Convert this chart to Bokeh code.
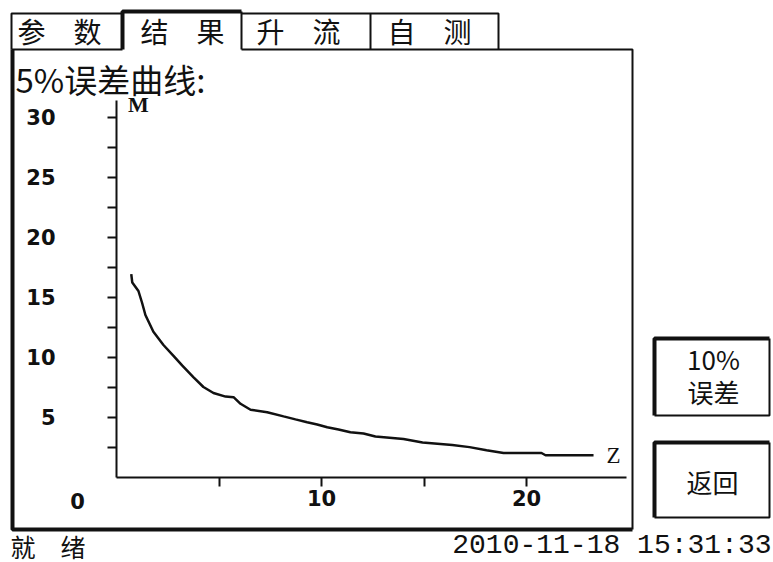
from bokeh.plotting import figure
from bokeh.models import Range1d, LinearAxis, FixedTicker
from bokeh.embed import file_html
from bokeh.resources import INLINE
from bokeh.core.properties import value

# ---------------- data ----------------
z_vals = [0.72, 0.77, 1.07, 1.25, 1.41, 1.80, 2.29, 2.78, 3.20, 3.76, 4.24, 4.73,
          5.32, 5.71, 6.05, 6.54, 7.35, 8.15, 8.73, 9.30, 9.79, 10.28, 10.83, 11.41,
          12.05, 12.63, 14.00, 14.93, 16.38, 17.22, 18.05, 18.88, 20.73, 20.93, 23.27]
m_vals = [16.9, 16.2, 15.5, 14.5, 13.5, 12.1, 11.0, 10.1, 9.3, 8.3, 7.5, 7.0,
          6.7, 6.65, 6.1, 5.6, 5.4, 5.05, 4.8, 4.57, 4.38, 4.15, 3.96, 3.73,
          3.63, 3.38, 3.16, 2.88, 2.67, 2.49, 2.23, 2.0, 2.0, 1.81, 1.81]
y_major = [5, 10, 15, 20, 25, 30]
y_minor = [2.5, 7.5, 12.5, 17.5, 22.5, 27.5]
x_major = [10, 20]
x_minor = [5, 15]
tab_labels = ["参　数", "结　果", "升　流", "自　测"]
title_text = "5%误差曲线:"
y_name = "M"
x_name = "Z"
origin_label = "0"
button_labels = ["10%", "误差", "返回"]
status_text = "就　绪"
time_text = "2010-11-18 15:31:33"

# ---------------- geometry helpers (page px -> data) ----------------
SX, X0 = 20.5, 116.0
SY, Y0 = 12.0, 476.5
def X(px):
    return (px - X0) / SX
def Y(py):
    return (Y0 - py) / SY

INK = "#111111"
W, H = 773, 562

p = figure(width=W, height=H, output_backend="svg", toolbar_location=None,
           x_range=Range1d(X(0), X(W)), y_range=Range1d(Y(H), Y(0)),
           x_axis_type=None, y_axis_type=None, min_border=0,
           background_fill_color="white", border_fill_color="white")
p.outline_line_color = None
p.xgrid.visible = False
p.ygrid.visible = False

# ---------------- frame decorations ----------------
def seg(points):
    return [X(a) for a, b in points], [Y(b) for a, b in points]

thin = [
    [(11, 49), (11, 13), (122, 13)],
    [(241, 13), (498, 13), (498, 49)],
    [(370, 13), (370, 49)],
    [(241, 11), (241, 49)],
    [(11, 49), (122, 49)],
    [(241, 49), (632, 49), (632, 529)],
    [(769, 338), (769, 415), (654, 415)],
    [(769, 442), (769, 517), (654, 517)],
]
thick = [
    [(122, 49), (122, 11), (241, 11)],
    [(12, 49), (12, 529), (632, 529)],
    [(654, 415), (654, 338), (769, 338)],
    [(654, 517), (654, 442), (769, 442)],
]
for group, lw in ((thin, 2), (thick, 4)):
    xs, ys = [], []
    for pts in group:
        a, b = seg(pts)
        xs.append(a)
        ys.append(b)
    p.multi_line(xs=xs, ys=ys, line_color=INK, line_width=lw)

CJK = value("Noto Sans CJK SC")

# tabs
p.text(x=[X(59), X(182), X(298), X(429)], y=[Y(30)] * 4, text=tab_labels,
       text_font=CJK, text_font_size=value("28px"), text_color=INK,
       text_align="center", text_baseline="middle")
# title
p.text(x=[X(15)], y=[Y(78)], text=[title_text], text_font=CJK,
       text_font_size=value("33px"), text_color=INK,
       text_align="left", text_baseline="middle")

# ---------------- chart ----------------
p.line(z_vals, m_vals, line_color=INK, line_width=2.5)

yaxis = LinearAxis(fixed_location=0, bounds=(0, Y(100)),
                   ticker=FixedTicker(ticks=y_major, minor_ticks=y_minor))
xaxis = LinearAxis(fixed_location=0, bounds=(0, X(626)),
                   ticker=FixedTicker(ticks=x_major, minor_ticks=x_minor))
for ax in (yaxis, xaxis):
    ax.axis_line_color = INK
    ax.axis_line_width = 2
    ax.major_tick_line_color = INK
    ax.major_tick_line_width = 2
    ax.major_tick_in = 0
    ax.major_tick_out = 9
    ax.minor_tick_line_color = INK
    ax.minor_tick_line_width = 2
    ax.minor_tick_in = 0
    ax.minor_tick_out = 9
    ax.major_label_text_font = "DejaVu Sans"
    ax.major_label_text_font_style = "bold"
    ax.major_label_text_font_size = "21px"
    ax.major_label_text_color = INK
yaxis.major_label_standoff = 52
xaxis.major_label_standoff = 4
p.add_layout(yaxis, "left")
p.add_layout(xaxis, "below")

p.text(x=[X(138)], y=[Y(104)], text=[y_name], text_font=value("Liberation Serif"),
       text_font_style="bold", text_font_size=value("22px"), text_color=INK,
       text_align="center", text_baseline="middle")
p.text(x=[X(613)], y=[Y(455)], text=[x_name], text_font=value("Liberation Serif"),
       text_font_size=value("23px"), text_color=INK,
       text_align="center", text_baseline="middle")
p.text(x=[X(77)], y=[Y(500)], text=[origin_label], text_font=value("DejaVu Sans"),
       text_font_style="bold", text_font_size=value("21px"), text_color=INK,
       text_align="center", text_baseline="middle")

# ---------------- buttons ----------------
p.text(x=[X(713), X(713), X(712)], y=[Y(358), Y(391), Y(481)], text=button_labels,
       text_font=CJK, text_font_size=value("26px"), text_color=INK,
       text_align="center", text_baseline="middle")

# ---------------- status bar ----------------
p.text(x=[X(10)], y=[Y(545)], text=[status_text], text_font=CJK,
       text_font_size=value("25px"), text_color=INK,
       text_align="left", text_baseline="middle")
p.text(x=[X(771)], y=[Y(545)], text=[time_text], text_font=value("Liberation Mono"),
       text_font_size=value("28px"), text_color=INK,
       text_align="right", text_baseline="middle")

open("out.html", "w").write(file_html(p, INLINE))
